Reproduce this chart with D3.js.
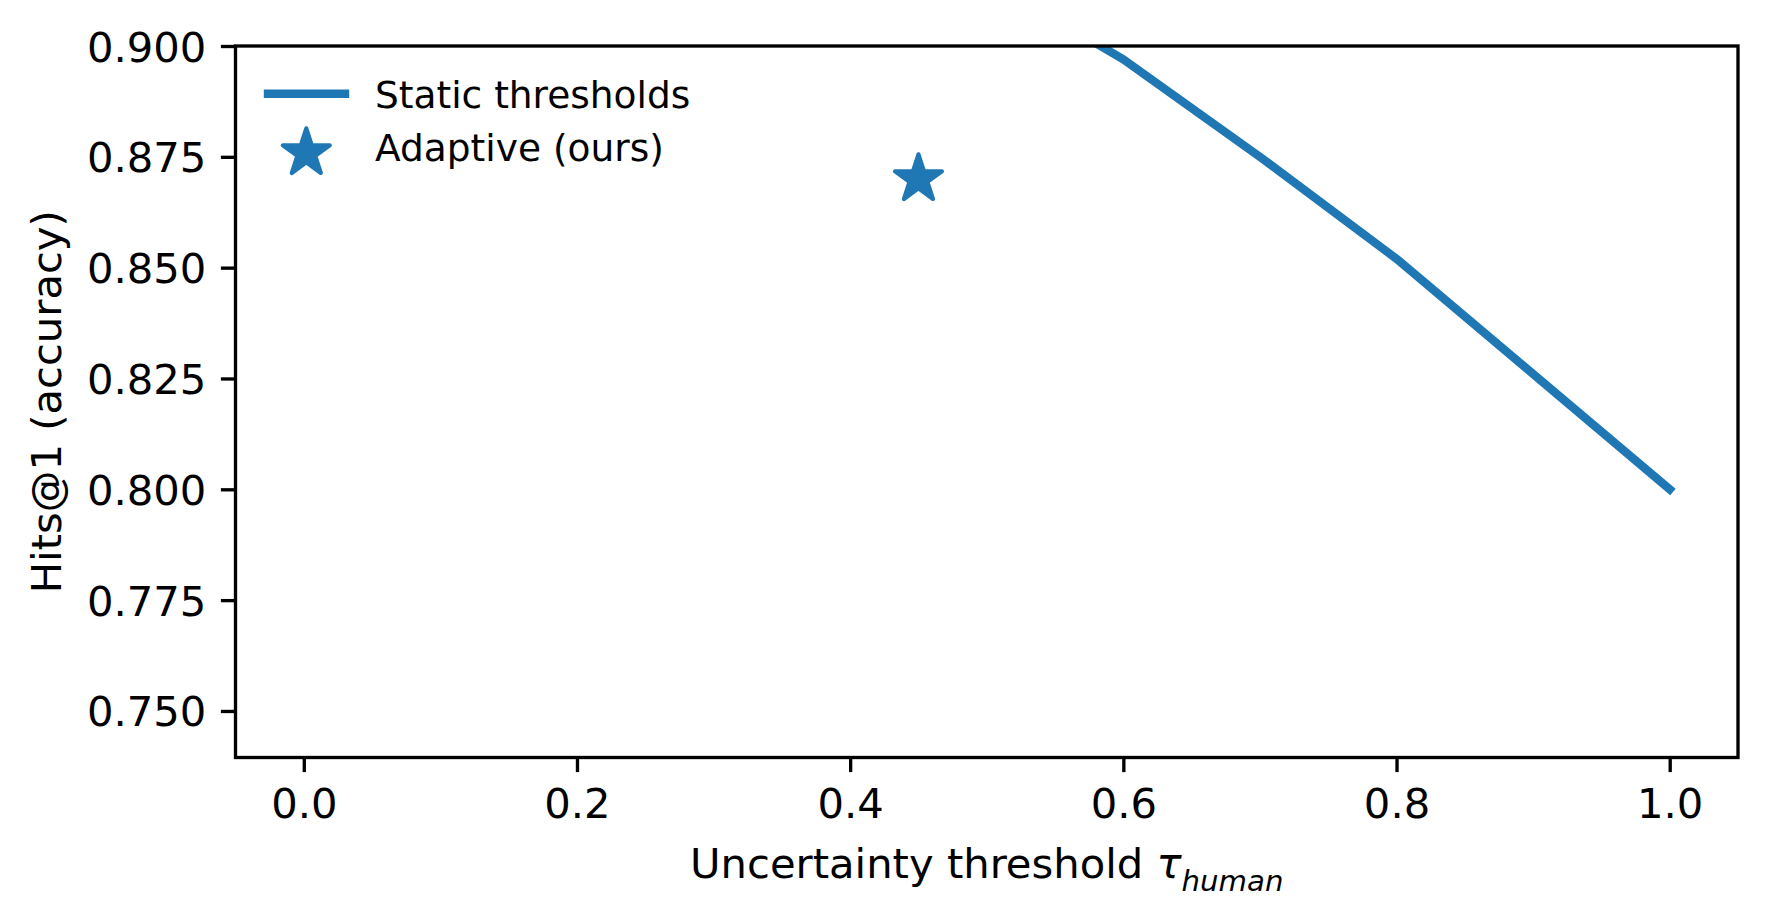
<!DOCTYPE html>
<html>
<head>
<meta charset="utf-8">
<script src="https://cdn.jsdelivr.net/npm/d3@7"></script>
<style>
  html, body { margin: 0; padding: 0; background: #fff; }
  svg { display: block; }
  text { font-family: "DejaVu Sans", sans-serif; fill: #000; }
</style>
</head>
<body>
<svg id="chart" width="1767" height="917"></svg>
<script>
// ---- data ----
const thresholds = [0.5, 0.6, 0.7, 0.8, 0.9, 1.0];
const staticHits = [0.915, 0.897, 0.875, 0.852, 0.826, 0.800];
const adaptiveTau = [0.45];
const adaptiveHits = [0.870];
const xTickValues = [0.0, 0.2, 0.4, 0.6, 0.8, 1.0];
const yTickValues = [0.750, 0.775, 0.800, 0.825, 0.850, 0.875, 0.900];
const seriesNames = ["Static thresholds", "Adaptive (ours)"];
const xLabelMain = "Uncertainty threshold ";
const xLabelSymbol = "τ";
const xLabelSub = "human";
const yLabel = "Hits@1 (accuracy)";

// ---- layout ----
const W = 1767, H = 917;
const plot = { left: 235.5, right: 1738, top: 46, bottom: 757.5 };
const color = "#1f77b4";
const fontTick = 41.7, fontLegend = 37.5;
const tickLen = 14.6, tickPad = 14.6, spineW = 3.33;

const svg = d3.select("#chart");

const x = d3.scaleLinear().domain([-0.05, 1.05]).range([plot.left, plot.right]);
const y = d3.scaleLinear().domain([0.7395, 0.900]).range([plot.bottom, plot.top]);

// clip
svg.append("defs").append("clipPath").attr("id", "clip")
  .append("rect")
  .attr("x", plot.left).attr("y", plot.top)
  .attr("width", plot.right - plot.left).attr("height", plot.bottom - plot.top);

// line
const lineData = thresholds.map((t, i) => [t, staticHits[i]]);
const line = d3.line().x(d => x(d[0])).y(d => y(d[1]));
svg.append("path")
  .datum(lineData)
  .attr("clip-path", "url(#clip)")
  .attr("d", line)
  .attr("fill", "none")
  .attr("stroke", color)
  .attr("stroke-width", 8.4)
  .attr("stroke-linecap", "square")
  .attr("stroke-linejoin", "round");

// star marker
const starR = 24.7;
const starPath = d3.symbol(d3.symbolStar, starR * starR / 0.89081309152928522810)();
svg.selectAll(".star")
  .data(adaptiveTau.map((t, i) => [t, adaptiveHits[i]]))
  .join("path")
  .attr("class", "star")
  .attr("d", starPath)
  .attr("transform", d => `translate(${x(d[0])},${y(d[1])})`)
  .attr("fill", color)
  .attr("stroke", color)
  .attr("stroke-width", 4.17)
  .attr("stroke-linejoin", "round");

// axes
const xAxis = d3.axisBottom(x).tickValues(xTickValues).tickFormat(d3.format(".1f"))
  .tickSize(tickLen).tickPadding(tickPad);
const gx = svg.append("g").attr("transform", `translate(0,${plot.bottom})`).call(xAxis);
gx.select(".domain").remove();
gx.selectAll(".tick line").attr("stroke", "#000").attr("stroke-width", spineW);
gx.selectAll(".tick text").attr("font-size", fontTick).attr("font-family", "DejaVu Sans")
  .attr("y", null).attr("dy", null).attr("transform", "translate(0,60.5)");

const yAxis = d3.axisLeft(y).tickValues(yTickValues).tickFormat(d3.format(".3f"))
  .tickSize(tickLen).tickPadding(tickPad);
const gy = svg.append("g").attr("transform", `translate(${plot.left},0)`).call(yAxis);
gy.select(".domain").remove();
gy.selectAll(".tick line").attr("stroke", "#000").attr("stroke-width", spineW);
gy.selectAll(".tick text").attr("font-size", fontTick).attr("font-family", "DejaVu Sans")
  .attr("dy", "0.36em");

// frame
svg.append("rect")
  .attr("x", plot.left).attr("y", plot.top)
  .attr("width", plot.right - plot.left).attr("height", plot.bottom - plot.top)
  .attr("fill", "none").attr("stroke", "#000").attr("stroke-width", spineW)
  .attr("stroke-linecap", "square");

// x label
const xl = svg.append("text")
  .attr("x", (plot.left + plot.right) / 2)
  .attr("y", 877.5)
  .attr("text-anchor", "middle")
  .attr("font-size", fontTick);
xl.append("tspan").text(xLabelMain);
xl.append("tspan").attr("font-style", "italic").text(xLabelSymbol);
xl.append("tspan").attr("font-style", "italic").attr("font-size", fontTick * 0.7)
  .attr("dy", 13).text(xLabelSub);

// y label
svg.append("text")
  .attr("transform", `translate(61,${(plot.top + plot.bottom) / 2}) rotate(-90)`)
  .attr("text-anchor", "middle")
  .attr("font-size", fontTick)
  .text(yLabel);

// legend
const lg = svg.append("g");
lg.append("line")
  .attr("x1", 268).attr("x2", 345).attr("y1", 93.8).attr("y2", 93.8)
  .attr("stroke", color).attr("stroke-width", 8.4).attr("stroke-linecap", "square");
lg.append("text").attr("x", 375).attr("y", 108.3).attr("font-size", fontLegend).text(seriesNames[0]);
lg.append("path")
  .attr("d", starPath)
  .attr("transform", "translate(306.3,153)")
  .attr("fill", color).attr("stroke", color).attr("stroke-width", 4.17)
  .attr("stroke-linejoin", "round");
lg.append("text").attr("x", 375).attr("y", 161).attr("font-size", fontLegend).text(seriesNames[1]);
</script>
</body>
</html>
